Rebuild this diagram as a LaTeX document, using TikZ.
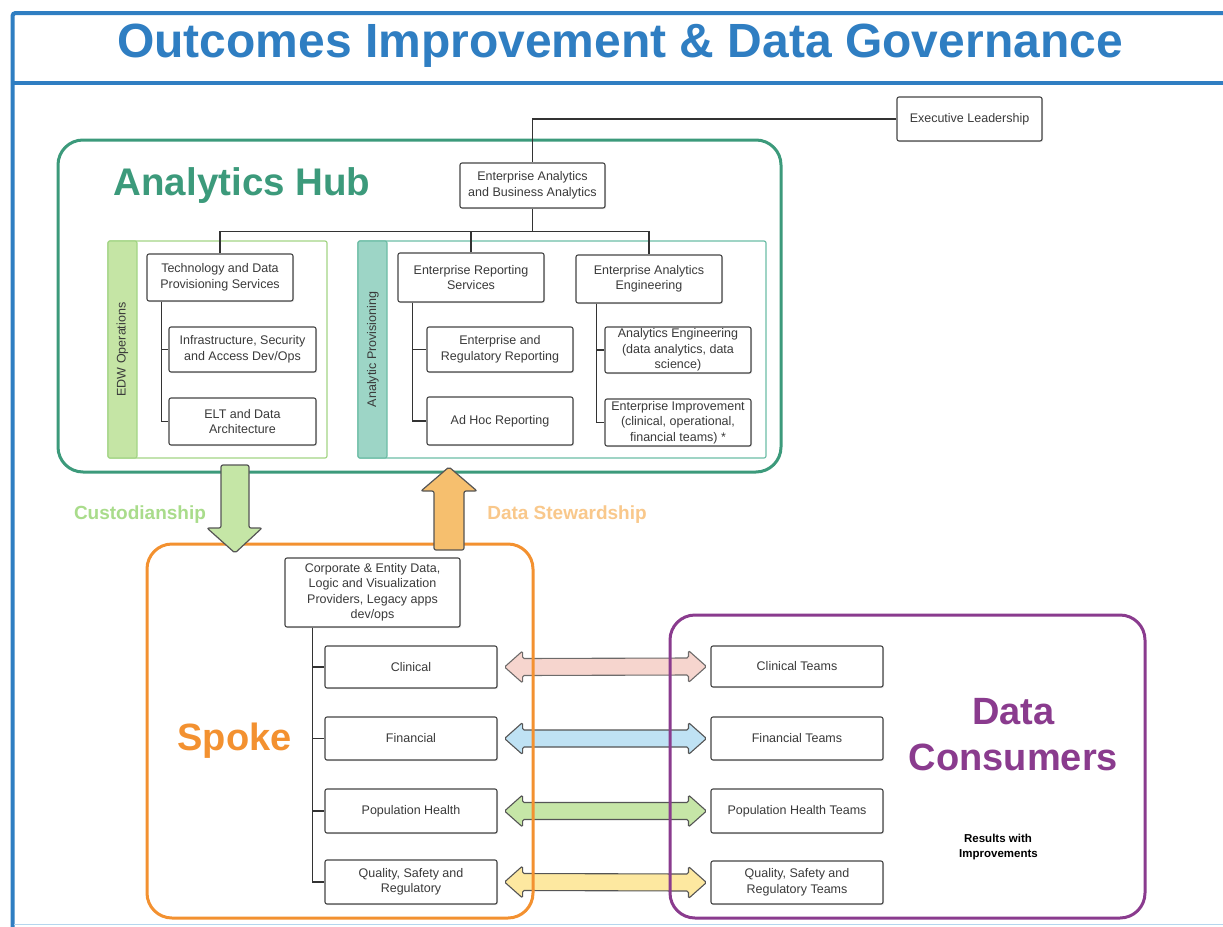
\documentclass[tikz,border=0pt]{standalone}
\usepackage{fontspec}
\setmainfont{Liberation Sans}
\usetikzlibrary{calc,shadows}

\definecolor{titleblue}{HTML}{2F7EC2}
\definecolor{framelight}{HTML}{B5D6EE}
\definecolor{hubgreen}{HTML}{3C9A7B}
\definecolor{edwfill}{HTML}{C5E5A5}
\definecolor{edwline}{HTML}{A3D585}
\definecolor{apfill}{HTML}{9DD5C6}
\definecolor{apline}{HTML}{6DBDA6}
\definecolor{custtext}{HTML}{A9DC8B}
\definecolor{custfill}{HTML}{C5E6A6}
\definecolor{stewtext}{HTML}{F9C88B}
\definecolor{stewfill}{HTML}{F6BF6E}
\definecolor{spokeorange}{HTML}{F39130}
\definecolor{consumerpurple}{HTML}{8A3B8E}
\definecolor{linkpink}{HTML}{F5CEC6}
\definecolor{linkblue}{HTML}{BFE2F4}
\definecolor{linkgreen}{HTML}{C6E6A7}
\definecolor{linkyellow}{HTML}{FDE8A0}
\definecolor{boxline}{HTML}{454545}
\definecolor{boxtext}{HTML}{3A3A3A}
\definecolor{wirecol}{HTML}{333333}
\definecolor{arrowline}{HTML}{555555}

% a box given by its corners: \boxat[opts]{x1}{y1}{x2}{y2}{name}{text};
\newcommand{\boxat}[6][]{\node[box,minimum width={#4-#2},minimum height={#5-#3},#1] (#6) at ({(#2+#4)/2},{(#3+#5)/2})}

% two-headed block arrow from the east side of one box to the west side of another
\newcommand{\twoway}[3]{%
  \draw[linkarrow, fill=#1]
    ($(#2.east)+(7,0)$) -- ++(18,-16) -- ++(0,7.5)
    -- ($(#3.west)+(-22,-8.5)$) -- ++(0,-7.5) -- ++(18,16) -- ++(-18,16) -- ++(0,-7.5)
    -- ($(#2.east)+(25,8.5)$) -- ++(0,7.5) -- cycle;}

\begin{document}
\begin{tikzpicture}[x=1pt,y=-1pt,
  box/.style={draw=boxline, line width=1.1pt, rounded corners=2pt, fill=white,
    align=center, text=boxtext, inner sep=1pt,
    font=\fontsize{12.5}{15.5}\selectfont,
    drop shadow={opacity=0.2, shadow xshift=1pt, shadow yshift=-1.2pt}},
  wire/.style={draw=wirecol, line width=1.4pt},
  frameline/.style={draw=titleblue, line width=4pt},
  container/.style={line width=3pt, rounded corners=25pt},
  linkarrow/.style={draw=arrowline, line width=1.1pt, rounded corners=1.5pt},
  blockarrow/.style={draw=arrowline, line width=1.2pt, rounded corners=2pt},
  vlabel/.style={rotate=90, text=boxtext, font=\fontsize{12.5}{15}\selectfont},
  biglabel/.style={anchor=base, font=\fontsize{38}{40}\selectfont\bfseries}]

\useasboundingbox (0,0) rectangle (1223,926);
\fill[white] (0,0) rectangle (1223,926);

% page frame and title bar
\draw[frameline, rounded corners=3pt] (12.5,930) -- (12.5,13) -- (1230,13);
\draw[frameline] (12.5,83) -- (1230,83);
\draw[framelight, line width=1.5pt] (14,924.5) -- (1223,924.5);
\node[anchor=base, text=titleblue, font=\fontsize{48}{50}\selectfont\bfseries] (title) at (620,57)
  {Outcomes Improvement \& Data Governance};

% Analytics Hub
\draw[container, draw=hubgreen] (58,140) rectangle (781,472);
\node[anchor=base, text=hubgreen, font=\fontsize{38.5}{40}\selectfont\bfseries] (hublabel) at (242,195) {Analytics Hub};

% EDW Operations group
\draw[edwline, line width=1.2pt, rounded corners=2pt] (108,241) rectangle (327,458);
\draw[edwline, fill=edwfill, line width=1.2pt, rounded corners=2pt] (108,241) rectangle (137,458);
\node[vlabel] (edwlabel) at (122.5,349.5) {EDW Operations};

% Analytic Provisioning group
\draw[apline, line width=1.2pt, rounded corners=2pt] (358,241) rectangle (766,458);
\draw[apline, fill=apfill, line width=1.2pt, rounded corners=2pt] (358,241) rectangle (387,458);
\node[vlabel] (aplabel) at (373,349.5) {Analytic Provisioning};

% hub boxes
\boxat{897}{97}{1042}{141}{exec}{Executive Leadership};
\boxat{460}{163}{605}{208}{eaba}{Enterprise Analytics\\and Business Analytics};
\boxat{147}{254}{293}{301}{tech}{Technology and Data\\Provisioning Services};
\boxat{169}{327}{316}{372}{infra}{Infrastructure, Security\\and Access Dev/Ops};
\boxat{169}{398}{316}{445}{elt}{ELT and Data\\Architecture};
\boxat{398}{253}{544}{302}{ers}{Enterprise Reporting\\Services};
\boxat{427}{327}{573}{372}{err}{Enterprise and\\Regulatory Reporting};
\boxat{427}{397}{573}{445}{adhoc}{Ad Hoc Reporting};
\boxat{576}{255}{722}{303}{eae}{Enterprise Analytics\\Engineering};
\boxat{605}{327}{751}{373}{aeng}{Analytics Engineering\\(data analytics, data\\science)};
\boxat{605}{399}{751}{446}{eimp}{Enterprise Improvement\\(clinical, operational,\\financial teams) *};

% hub reporting lines
\coordinate (bus) at ($(eaba.south)+(0,23)$);
\draw[wire] (exec.west) -| (eaba.north);
\draw[wire] (eaba.south) -- (bus);
\draw[wire] (tech.north) |- (bus) -| (eae.north);
\draw[wire] (ers.north) |- (bus);
\coordinate (techtrunk) at ($(tech.south west)+(15,0)$);
\draw[wire] (techtrunk) |- (infra.west);
\draw[wire] (techtrunk) |- (elt.west);
\coordinate (erstrunk) at ($(ers.south west)+(15,0)$);
\draw[wire] (erstrunk) |- (err.west);
\draw[wire] (erstrunk) |- (adhoc.west);
\coordinate (eaetrunk) at ($(eae.south west)+(21,0)$);
\draw[wire] (eaetrunk) |- (aeng.west);
\draw[wire] (eaetrunk) |- (eimp.west);

% spoke and consumer boxes
\boxat{285}{558}{460}{627}{corp}{Corporate \& Entity Data,\\Logic and Visualization\\Providers, Legacy apps\\dev/ops};
\boxat{325}{646}{497}{688}{clin}{Clinical};
\boxat{325}{717}{497}{760}{fin}{Financial};
\boxat{325}{789}{497}{833}{pop}{Population Health};
\boxat{325}{860}{497}{904}{qual}{Quality, Safety and\\Regulatory};
\boxat{711}{646}{883}{687}{clinT}{Clinical Teams};
\boxat{711}{717}{883}{760}{finT}{Financial Teams};
\boxat{711}{789}{883}{833}{popT}{Population Health Teams};
\boxat{711}{861}{883}{904}{qualT}{Quality, Safety and\\Regulatory Teams};

\coordinate (corptrunk) at ($(corp.south west)+(28,0)$);
\draw[wire] (corptrunk) |- (clin.west);
\draw[wire] (corptrunk) |- (fin.west);
\draw[wire] (corptrunk) |- (pop.west);
\draw[wire] (corptrunk) |- (qual.west);

% data exchange between spoke and consumers
\begin{scope}[opacity=0.85]
\twoway{linkpink}{clin}{clinT}
\end{scope}
\twoway{linkblue}{fin}{finT}
\twoway{linkgreen}{pop}{popT}
\twoway{linkyellow}{qual}{qualT}

% Spoke container
\draw[container, draw=spokeorange] (147,544) rectangle (533,918);
\node[biglabel, text=spokeorange] (spokelabel) at (234.5,750) {Spoke};

% Data Consumers container
\draw[container, draw=consumerpurple] (670,615) rectangle (1145,918);
\node[biglabel, text=consumerpurple] (cons1) at (1013.5,724) {Data};
\node[biglabel, text=consumerpurple] (cons2) at (1013.5,770) {Consumers};
\node[anchor=base, font=\fontsize{11.5}{14}\selectfont\bfseries] (res1) at (998,842) {Results with};
\node[anchor=base, font=\fontsize{11.5}{14}\selectfont\bfseries] (res2) at (998.5,857) {Improvements};

% custodianship and stewardship flows
\draw[blockarrow, fill=custfill] (221,465) -- (249,465) -- (249,528) -- (262,528)
  -- (235,553) -- (207,528) -- (221,528) -- cycle;
\draw[blockarrow, fill=stewfill] (434,550) -- (464,550) -- (464,491) -- (477,491)
  -- (449,467) -- (421,491) -- (434,491) -- cycle;
\node[anchor=base, text=custtext, font=\fontsize{19}{22}\selectfont\bfseries] (cust) at (140,519) {Custodianship};
\node[anchor=base, text=stewtext, font=\fontsize{19}{22}\selectfont\bfseries] (stew) at (567,519) {Data Stewardship};

\end{tikzpicture}
\end{document}
